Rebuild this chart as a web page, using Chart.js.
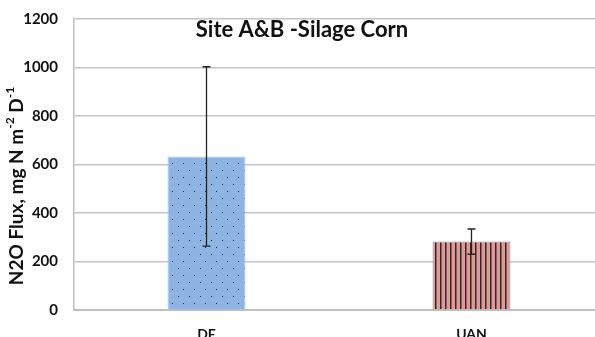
<!DOCTYPE html>
<html>
<head>
<meta charset="utf-8">
<script src="https://cdn.jsdelivr.net/npm/chart.js@4"></script>
<style>
  html, body { margin: 0; padding: 0; background: #fff; overflow: hidden; }
  #wrap { width: 595px; height: 337px; overflow: hidden; }
  #box { width: 604px; height: 337px; }
</style>
</head>
<body>
<div id="wrap"><div id="box"><canvas id="flux"></canvas></div></div>
<script>
const categories = ['DE', 'UAN'];
const fluxMean = [633, 282];
const fluxErr = [370, 52];
const yTicks = [0, 200, 400, 600, 800, 1000, 1200];

function dotPattern() {
    const c = document.createElement('canvas');
    c.width = 11; c.height = 14;
    const g = c.getContext('2d');
    g.fillStyle = '#8db4e2';
    g.fillRect(0, 0, 11, 14);
    g.fillStyle = '#1f2a3a';
    g.fillRect(2, 2, 1, 1);
    g.fillRect(7, 9, 1, 1);
    return g.createPattern(c, 'repeat');
}

function stripePattern() {
    const c = document.createElement('canvas');
    c.width = 5; c.height = 4;
    const g = c.getContext('2d');
    g.fillStyle = '#dc9a99';
    g.fillRect(0, 0, 5, 4);
    g.fillStyle = '#3a2626';
    g.fillRect(0, 0, 1.5, 4);
    return g.createPattern(c, 'repeat');
}

// error bars + title + rotated y title with superscripts
const extras = {
    id: 'extras',
    afterDatasetsDraw(chart) {
        const ctx = chart.ctx;
        const x = chart.scales.x, y = chart.scales.y;
        ctx.save();
        ctx.strokeStyle = '#222';
        ctx.lineWidth = 1.3;
        fluxMean.forEach((m, i) => {
            const px = x.getPixelForValue(i);
            const top = y.getPixelForValue(m + fluxErr[i]);
            const bot = y.getPixelForValue(m - fluxErr[i]);
            ctx.beginPath();
            ctx.moveTo(px, top); ctx.lineTo(px, bot);
            ctx.moveTo(px - 4, top); ctx.lineTo(px + 4, top);
            ctx.moveTo(px - 4, bot); ctx.lineTo(px + 4, bot);
            ctx.stroke();
        });
        ctx.restore();
    },
    afterDraw(chart) {
        const ctx = chart.ctx;
        ctx.save();
        ctx.fillStyle = '#111';
        ctx.font = 'bold 22px Lato';
        ctx.textAlign = 'center';
        ctx.textBaseline = 'middle';
        ctx.fillText('Site A&B -Silage Corn', 302, 30);

        // y title
        ctx.translate(17, 186);
        ctx.rotate(-Math.PI / 2);
        const parts = [
            ['N2O Flux, mg N m', false], ['-2', true], [' D', false], ['-1', true]
        ];
        const big = 'bold 19px Lato', small = 'bold 12px Lato';
        let total = 0;
        parts.forEach(p => { ctx.font = p[1] ? small : big; total += ctx.measureText(p[0]).width; });
        let cx = -total / 2;
        ctx.textAlign = 'left';
        parts.forEach(p => {
            ctx.font = p[1] ? small : big;
            ctx.fillText(p[0], cx, p[1] ? -7 : 0);
            cx += ctx.measureText(p[0]).width;
        });
        ctx.restore();
    }
};

new Chart(document.getElementById('flux'), {
    type: 'bar',
    data: {
        labels: categories,
        datasets: [{
            data: fluxMean,
            backgroundColor: [dotPattern(), stripePattern()],
            borderColor: ['#a9c6ea', '#9a8a8a'],
            borderWidth: 1,
            categoryPercentage: 1,
            barPercentage: 0.294
        }]
    },
    options: {
        responsive: true,
        maintainAspectRatio: false,
        animation: false,
        layout: { padding: { top: 19, right: 0, left: 0, bottom: 0 } },
        plugins: { legend: { display: false }, tooltip: { enabled: false } },
        scales: {
            x: {
                grid: { display: false },
                border: { color: '#bfbfbf', width: 2 },
                ticks: { color: '#111', font: { family: 'Lato', weight: 'bold', size: 14 }, padding: 8 },
                afterFit(s) { s.height = 27; }
            },
            y: {
                min: 0, max: 1200,
                afterBuildTicks(s) { s.ticks = yTicks.map(v => ({ value: v })); },
                grid: { color: '#c4c4c4', lineWidth: 1.5, drawTicks: false },
                border: { color: '#bfbfbf', width: 1.5 },
                ticks: {
                    color: '#111', font: { family: 'Lato', weight: 'bold', size: 15 }, padding: 16,
                    callback: v => String(v)
                },
                afterFit(s) { s.width = 74; s.paddingTop = 0; s.paddingBottom = 0; }
            }
        }
    },
    plugins: [extras]
});
</script>
</body>
</html>
